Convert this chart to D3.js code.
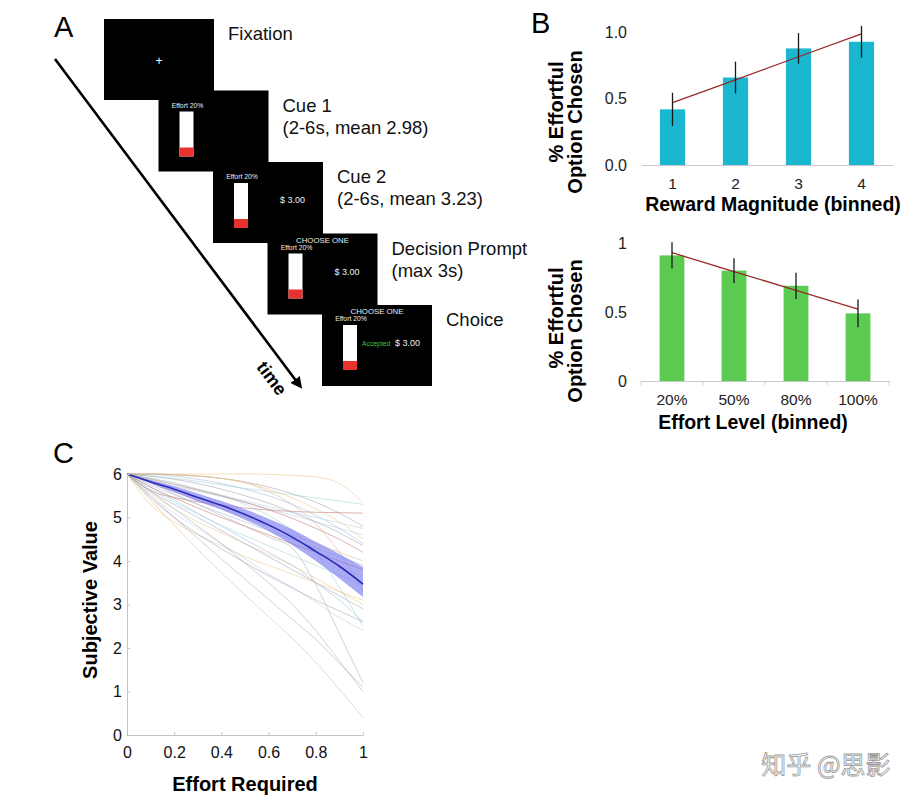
<!DOCTYPE html>
<html>
<head>
<meta charset="utf-8">
<script src="https://cdn.jsdelivr.net/npm/d3@7"></script>
<style>
  body { margin: 0; background: #fff; }
  text { font-family: "Liberation Sans", Arial, sans-serif; }
</style>
</head>
<body>
<script>
// ---- data ----
// Panel A: trial sequence
const screenLabels = [
  ['Fixation'],
  ['Cue 1', '(2-6s, mean 2.98)'],
  ['Cue 2', '(2-6s, mean 3.23)'],
  ['Decision Prompt', '(max 3s)'],
  ['Choice']
];

// Panel B: choice proportions
const rewardBins = ['1', '2', '3', '4'];
const rewardChosen = [0.42, 0.66, 0.88, 0.93];
const rewardErr = [0.125, 0.12, 0.115, 0.12];
const rewardFit = [0.47, 0.643, 0.817, 0.99];
const rewardTicks = [0, 0.5, 1];

const effortBins = ['20%', '50%', '80%', '100%'];
const effortChosen = [0.91, 0.80, 0.69, 0.49];
const effortErr = [0.095, 0.09, 0.095, 0.10];
const effortFit = [0.93, 0.793, 0.657, 0.52];
const effortTicks = [0, 0.5, 1];

// Panel C: subjective value curves
const effortGrid = [0, 0.1, 0.2, 0.3, 0.4, 0.5, 0.6, 0.7, 0.8, 0.9, 1];
const meanSV = [6, 5.82, 5.65, 5.46, 5.28, 5.07, 4.83, 4.55, 4.22, 3.88, 3.47];
const meanHi = [6, 5.86, 5.72, 5.55, 5.38, 5.19, 4.97, 4.73, 4.44, 4.16, 3.86];
const meanLo = [6, 5.78, 5.58, 5.37, 5.18, 4.95, 4.69, 4.37, 4.00, 3.60, 3.17];
const subjectSV = [
  [6, 6, 6, 6, 6, 6, 5.99, 5.97, 5.93, 5.78, 5.35],
  [6, 6, 5.98, 5.95, 5.9, 5.82, 5.7, 5.55, 5.35, 5.1, 4.8],
  [6, 5.99, 5.95, 5.88, 5.78, 5.65, 5.5, 5.3, 5.05, 4.75, 4.4],
  [6, 5.95, 5.9, 5.83, 5.75, 5.67, 5.6, 5.52, 5.45, 5.38, 5.3],
  [6, 5.62, 5.46, 5.36, 5.28, 5.22, 5.17, 5.14, 5.12, 5.11, 5.1],
  [6, 5.9, 5.78, 5.65, 5.52, 5.38, 5.25, 5.12, 5.0, 4.88, 4.75],
  [6, 5.5, 5.0, 4.52, 4.05, 3.58, 3.12, 2.66, 2.2, 1.65, 1.1],
  [6, 5.4, 4.82, 4.27, 3.73, 3.22, 2.72, 2.22, 1.67, 1.05, 0.4],
  [6, 5.55, 5.2, 4.9, 4.65, 4.4, 4.15, 3.9, 3.6, 3.3, 3.0],
  [6, 5.6, 5.3, 5.0, 4.7, 4.4, 4.1, 3.8, 3.5, 3.2, 2.9],
  [6, 5.7, 5.4, 5.1, 4.8, 4.5, 4.2, 3.9, 3.5, 3.1, 2.6],
  [6, 5.65, 5.35, 5.08, 4.82, 4.58, 4.35, 4.12, 3.9, 3.68, 3.45],
  [6, 5.7, 5.45, 5.22, 5.0, 4.8, 4.6, 4.4, 4.2, 4.0, 3.8],
  [6, 5.85, 5.72, 5.6, 5.48, 5.35, 5.2, 5.05, 4.9, 4.75, 4.6],
  [6, 5.8, 5.55, 5.3, 5.05, 4.8, 4.55, 4.3, 3.45, 2.33, 1.2],
  [6, 6, 5.98, 5.95, 5.9, 5.8, 5.6, 5.3, 4.85, 4.2, 3.3],
  [6, 5.3, 4.9, 4.6, 4.35, 4.1, 3.9, 3.7, 3.5, 3.3, 3.1],
  [6, 5.95, 5.88, 5.78, 5.65, 5.5, 5.33, 5.12, 4.9, 4.65, 4.35],
  [6, 5.75, 5.52, 5.3, 5.1, 4.9, 4.7, 4.5, 4.3, 4.1, 3.9],
  [6, 5.9, 5.8, 5.65, 5.5, 5.3, 5.05, 4.7, 4.2, 3.4, 2.5],
  [6, 5.88, 5.76, 5.63, 5.5, 5.35, 5.18, 4.98, 4.75, 4.5, 4.2],
  [6, 5.5, 5.1, 4.75, 4.4, 4.05, 3.7, 3.4, 3.05, 2.7, 2.4],
  [6, 5.6, 5.2, 4.8, 4.4, 3.95, 3.5, 3.0, 2.4, 1.7, 1.0],
  [6, 5.8, 5.6, 5.4, 5.2, 5.0, 4.8, 4.6, 4.4, 4.2, 4.0],
  [6, 6, 5.99, 5.96, 5.9, 5.8, 5.65, 5.45, 5.2, 4.9, 4.5],
  [6, 5.45, 5.0, 4.62, 4.28, 3.96, 3.66, 3.38, 3.1, 2.85, 2.6]
];
const xTicksC = [0, 0.2, 0.4, 0.6, 0.8, 1];
const yTicksC = [0, 1, 2, 3, 4, 5, 6];

const FONT = 'Liberation Sans, Arial, sans-serif';

let svg = d3.select('body')
  .append('svg')
    .attr('width', 924)
    .attr('height', 804)
    .style('background', '#fff');

// panel letters
svg.append('text').attr('x', 54).attr('y', 37).style('font-size', '29px').text('A');
svg.append('text').attr('x', 531).attr('y', 33).style('font-size', '29px').text('B');
svg.append('text').attr('x', 53).attr('y', 463).style('font-size', '29px').text('C');

// ================= Panel A =================
let stepX = d3.scaleLinear().domain([0, 4]).range([104, 322]);
let stepY = d3.scaleLinear().domain([0, 4]).range([19, 305]);
let scrW = 110, scrH = 81;

svg.append('defs').append('marker')
    .attr('id', 'arrow')
    .attr('viewBox', '0 0 10 10')
    .attr('refX', 7).attr('refY', 5)
    .attr('markerWidth', 4.5).attr('markerHeight', 4.5)
    .attr('orient', 'auto')
  .append('path')
    .attr('d', 'M0,0 L10,5 L0,10 z')
    .attr('fill', '#000');

svg.append('line')
  .attr('x1', 55).attr('y1', 59)
  .attr('x2', 300).attr('y2', 386)
  .attr('stroke', '#000')
  .attr('stroke-width', 2.6)
  .attr('marker-end', 'url(#arrow)');

svg.append('text')
  .attr('transform', 'translate(267,382) rotate(53)')
  .attr('text-anchor', 'middle')
  .style('font-size', '18px')
  .style('font-weight', 'bold')
  .text('time');

let screens = svg.selectAll('g.screen')
  .data(screenLabels)
  .join('g')
    .attr('class', 'screen')
    .attr('transform', (d, i) => `translate(${stepX(i)},${stepY(i)})`);

screens.append('rect')
  .attr('width', scrW).attr('height', scrH)
  .attr('fill', '#000');

screens.each(function(d, i) {
  let g = d3.select(this);
  if (i === 0) {
    g.append('text').attr('x', scrW / 2).attr('y', 46)
      .attr('text-anchor', 'middle').attr('fill', '#fff')
      .style('font-size', '12px').text('+');
    return;
  }
  let top = i >= 3 ? 20 : 21;
  g.append('text').attr('x', 29).attr('y', top - 4)
    .attr('text-anchor', 'middle').attr('fill', '#eee')
    .style('font-size', '6.8px').text('Effort 20%');
  g.append('rect').attr('x', 21).attr('y', top).attr('width', 14).attr('height', 45).attr('fill', '#fff');
  g.append('rect').attr('x', 21).attr('y', top + 36).attr('width', 14).attr('height', 9).attr('fill', '#e8322e');
  if (i >= 2) {
    g.append('text').attr('x', i === 4 ? 73 : 67).attr('y', 41)
      .attr('fill', '#eee').style('font-size', '9px').text('$ 3.00');
  }
  if (i >= 3) {
    g.append('text').attr('x', 55).attr('y', 9)
      .attr('text-anchor', 'middle').attr('fill', '#eee')
      .style('font-size', '7.8px').text('CHOOSE ONE');
  }
  if (i === 4) {
    g.append('text').attr('x', 40).attr('y', 41)
      .attr('fill', '#35c640').style('font-size', '6.8px').text('Accepted');
  }
});

screens.append('text')
  .attr('x', scrW + 14)
  .attr('y', 21)
  .attr('fill', '#111')
  .style('font-size', '18.5px')
  .selectAll('tspan')
  .data(d => d)
  .join('tspan')
    .attr('x', scrW + 14)
    .attr('dy', (d, j) => j === 0 ? 0 : 22)
    .text(d => d);

// ================= Panel B =================
function barPanel(opt) {
  let x = d3.scaleBand()
    .domain(opt.bins)
    .range(opt.xRange)
    .paddingInner(0.6)
    .paddingOuter(0.3);
  let y = d3.scaleLinear().domain([0, 1]).range(opt.yRange);

  let xAxis = svg.append('g')
    .attr('transform', `translate(0,${opt.yRange[0]})`)
    .call(d3.axisBottom(x).tickSize(0).tickPadding(opt.xPad));
  xAxis.attr('font-family', FONT).attr('font-size', 15.5);
  xAxis.select('.domain').attr('stroke', '#c8c8c8');
  xAxis.selectAll('text').attr('fill', '#222');

  if (opt.edgeTicks) {
    let step = x.step();
    let edges = d3.range(opt.bins.length + 1).map(k => opt.xRange[0] + k * step);
    svg.append('g').selectAll('line')
      .data(edges)
      .join('line')
        .attr('x1', d => d).attr('x2', d => d)
        .attr('y1', opt.yRange[0]).attr('y2', opt.yRange[0] + 4)
        .attr('stroke', '#d0d0d0');
  }

  let yAxis = svg.append('g')
    .attr('transform', `translate(${opt.xRange[0]},0)`)
    .call(d3.axisLeft(y).tickValues(opt.ticks).tickFormat(opt.fmt).tickSize(0).tickPadding(14));
  yAxis.attr('font-family', FONT).attr('font-size', 16);
  yAxis.select('.domain').remove();
  yAxis.selectAll('text').attr('fill', '#222');

  svg.append('g').selectAll('rect')
    .data(opt.values)
    .join('rect')
      .attr('x', (d, i) => x(opt.bins[i]))
      .attr('y', d => y(d))
      .attr('width', x.bandwidth())
      .attr('height', d => y(0) - y(d))
      .attr('fill', opt.color);

  let cx = i => x(opt.bins[i]) + x.bandwidth() / 2;

  svg.append('path')
    .datum(opt.fit)
    .attr('d', d3.line().x((d, i) => cx(i)).y(d => y(d)))
    .attr('fill', 'none')
    .attr('stroke', '#962a2a')
    .attr('stroke-width', 1.3);

  svg.append('g').selectAll('line')
    .data(opt.values)
    .join('line')
      .attr('x1', (d, i) => cx(i)).attr('x2', (d, i) => cx(i))
      .attr('y1', (d, i) => y(d + opt.err[i]))
      .attr('y2', (d, i) => y(d - opt.err[i]))
      .attr('stroke', '#1a1a1a')
      .attr('stroke-width', 1.3);

  svg.append('text')
    .attr('x', (opt.xRange[0] + opt.xRange[1]) / 2 + opt.titleShift)
    .attr('y', opt.titleY)
    .attr('text-anchor', 'middle')
    .style('font-size', '19.5px').style('font-weight', 'bold')
    .text(opt.title);

  svg.append('text')
    .attr('transform', `translate(563,${opt.yTitleC[0]}) rotate(-90)`)
    .attr('text-anchor', 'middle')
    .style('font-size', '20px').style('font-weight', 'bold')
    .text('% Effortful');
  svg.append('text')
    .attr('transform', `translate(582,${opt.yTitleC[1]}) rotate(-90)`)
    .attr('text-anchor', 'middle')
    .style('font-size', '20px').style('font-weight', 'bold')
    .text('Option Chosen');
}

barPanel({
  bins: rewardBins, values: rewardChosen, err: rewardErr, fit: rewardFit,
  ticks: rewardTicks, fmt: d3.format('.1f'),
  xRange: [641, 893], yRange: [165, 32.5], xPad: 13,
  color: '#1bb6cf', title: 'Reward Magnitude (binned)', titleY: 210.5, titleShift: 6,
  yTitleC: [112, 122], edgeTicks: false
});

barPanel({
  bins: effortBins, values: effortChosen, err: effortErr, fit: effortFit,
  ticks: effortTicks, fmt: d => d3.format('')(d),
  xRange: [641, 889], yRange: [381, 243], xPad: 13,
  color: '#5ccb52', title: 'Effort Level (binned)', titleY: 429, titleShift: -12,
  yTitleC: [318, 331], edgeTicks: true
});

// ================= Panel C =================
let xC = d3.scaleLinear().domain([0, 1]).range([127, 363]);
let yC = d3.scaleLinear().domain([0, 6]).range([735, 474]);

let palette = ['#ecc27e', '#9c97ab', '#93b6da', '#96cfcf', '#c0685c', '#b2cbe4', '#a6a6ae', '#d9b08a'];
let colorC = d3.scaleOrdinal().domain(d3.range(subjectSV.length)).range(palette);

let lineC = d3.line()
  .x((d, i) => xC(effortGrid[i]))
  .y(d => yC(d))
  .curve(d3.curveMonotoneX);

svg.append('g').selectAll('path')
  .data(subjectSV)
  .join('path')
    .attr('d', lineC)
    .attr('fill', 'none')
    .attr('stroke', (d, i) => colorC(i))
    .attr('stroke-width', 1)
    .attr('stroke-opacity', 0.5);

let areaC = d3.area()
  .x((d, i) => xC(effortGrid[i]))
  .y0((d, i) => yC(meanLo[i]))
  .y1((d, i) => yC(meanHi[i]))
  .curve(d3.curveMonotoneX);

svg.append('path')
  .datum(meanSV)
  .attr('d', areaC)
  .attr('fill', '#7373ee')
  .attr('fill-opacity', 0.6);

svg.append('path')
  .datum(meanSV)
  .attr('d', lineC)
  .attr('fill', 'none')
  .attr('stroke', '#2a2ab8')
  .attr('stroke-width', 1.6);

let xAxisC = svg.append('g')
  .attr('transform', `translate(0,${yC(0)})`)
  .call(d3.axisBottom(xC).tickValues(xTicksC).tickFormat(d3.format('')).tickSizeInner(-3).tickSizeOuter(0).tickPadding(12));
xAxisC.attr('font-family', FONT).attr('font-size', 16);
xAxisC.select('.domain').attr('stroke', '#c4c4c4');
xAxisC.selectAll('line').attr('stroke', '#c4c4c4');
xAxisC.selectAll('text').attr('fill', '#111');

let yAxisC = svg.append('g')
  .attr('transform', `translate(${xC(0)},0)`)
  .call(d3.axisLeft(yC).tickValues(yTicksC).tickFormat(d3.format('d')).tickSizeInner(-3).tickSizeOuter(0).tickPadding(5));
yAxisC.attr('font-family', FONT).attr('font-size', 16);
yAxisC.select('.domain').attr('stroke', '#c4c4c4');
yAxisC.selectAll('line').attr('stroke', '#c4c4c4');
yAxisC.selectAll('text').attr('fill', '#111');

svg.append('text')
  .attr('x', 245).attr('y', 791)
  .attr('text-anchor', 'middle')
  .style('font-size', '20px').style('font-weight', 'bold')
  .text('Effort Required');

svg.append('text')
  .attr('transform', 'translate(97,600) rotate(-90)')
  .attr('text-anchor', 'middle')
  .style('font-size', '20px').style('font-weight', 'bold')
  .text('Subjective Value');

// watermark
svg.append('text')
  .attr('x', 826).attr('y', 774)
  .attr('text-anchor', 'middle')
  .style('font-family', '"Noto Sans CJK SC", sans-serif')
  .style('font-size', '25px')
  .attr('fill', '#fdfdfd')
  .attr('stroke', '#9a9a9a')
  .attr('stroke-width', 0.8)
  .text('知乎 @思影');
</script>
</body>
</html>
